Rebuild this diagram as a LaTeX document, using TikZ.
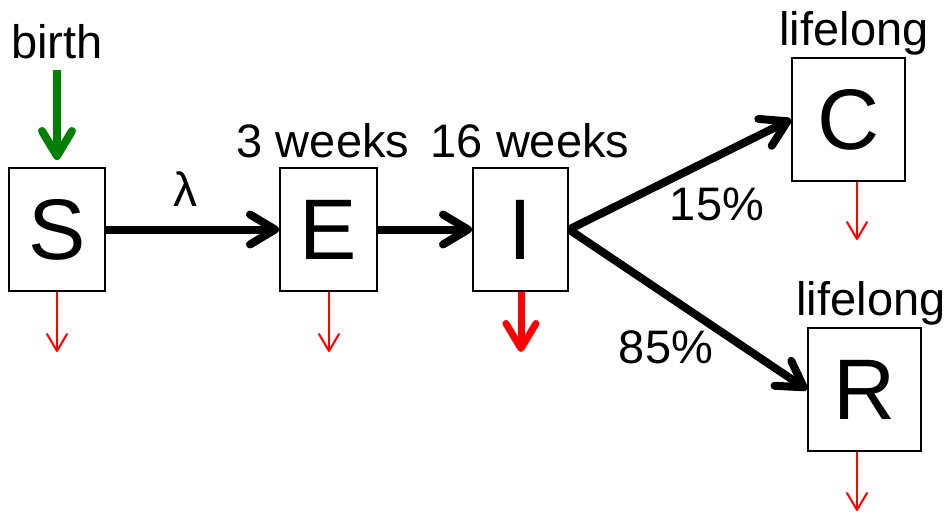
\documentclass[tikz,border=0pt]{standalone}
\usepackage{fontspec}
\setmainfont{Liberation Sans}
\usetikzlibrary{arrows.meta}
\definecolor{birthgreen}{RGB}{0,128,0}
\definecolor{deathred}{RGB}{255,0,0}
\tikzset{
  comp/.style={draw, line width=2pt, inner sep=0pt, minimum height=123pt,
    font=\fontsize{86}{90}\selectfont},
  lbl/.style={anchor=base, inner sep=0pt, font=\fontsize{47}{52}\selectfont},
  flow/.style={line width=8pt, -{Straight Barb[length=25pt,width=30pt,round]}},
  born/.style={flow, draw=birthgreen},
  diethin/.style={draw=deathred, line width=2pt, -{Straight Barb[length=17pt,width=20pt,round]}},
  diethick/.style={draw=deathred, line width=7pt, -{Straight Barb[length=25pt,width=30pt,round]}},
}
\begin{document}
\begin{tikzpicture}[x=1pt,y=-1pt]
\useasboundingbox (0,0) rectangle (947,515);
% compartments
\node[comp, minimum width=96pt] (S) at (57,229.5) {S};
\node[comp, minimum width=97pt] (E) at (328.5,229.5) {E};
\node[comp, minimum width=95pt] (I) at (520.5,229.5) {I};
\node[comp, minimum width=113pt] (C) at (848.5,119.5) {C};
\node[comp, minimum width=113pt] (R) at (864.5,389.5) {R};
% labels
\node[lbl] (birth) at (57,58) {birth};
\node[lbl] (tE) at (323,157) {3 weeks};
\node[lbl] (tI) at (530,157) {16 weeks};
\node[lbl] (tC) at (854,45) {lifelong};
\node[lbl] (tR) at (871,315) {lifelong};
\node[lbl, font=\fontsize{48}{52}\selectfont] (lam) at (185,206) {λ};
\node[lbl] (p15) at (717,220) {15\%};
\node[lbl] (p85) at (666,363) {85\%};
% coordinates
\coordinate (Bs) at (57,70);
\coordinate (Sd) at (57,352);
\coordinate (Ed) at (329,352);
\coordinate (Id) at (521,352);
\coordinate (Cd) at (857,240);
\coordinate (Rd) at (857,511);
% flows
\draw[born, shorten >=7pt] (Bs) -- (S.north);
\draw[flow] (S) -- (E);
\draw[flow] (E) -- (I);
\draw[flow] (I.east) -- (C.west);
\draw[flow] (I.east) -- (R.west);
% deaths
\draw[diethin] (S) -- (Sd);
\draw[diethin] (E.south -| Ed) -- (Ed);
\draw[diethick] (I.south -| Id) -- (Id);
\draw[diethin] (C.south -| Cd) -- (Cd);
\draw[diethin] (R.south -| Rd) -- (Rd);
\end{tikzpicture}
\end{document}
